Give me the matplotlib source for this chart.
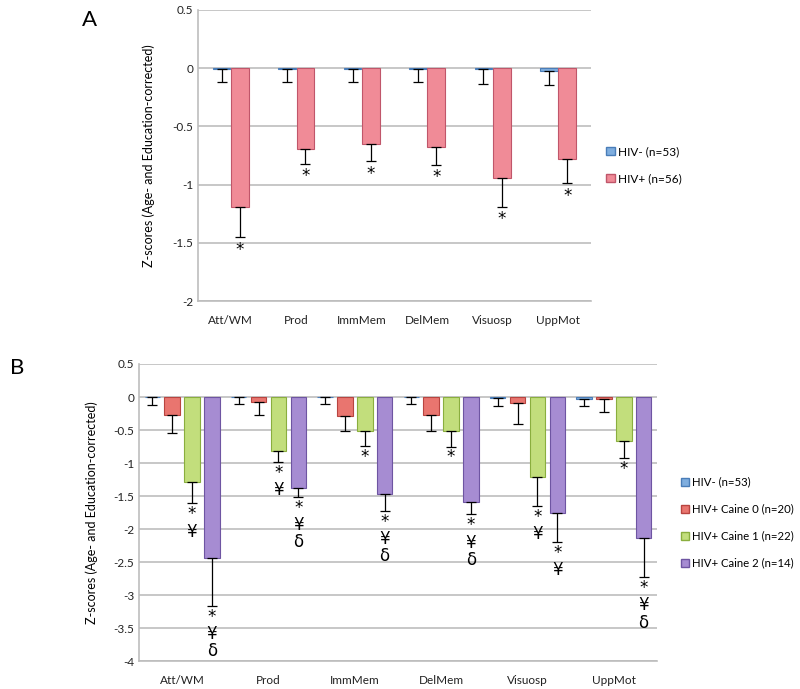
import numpy as np
import matplotlib
matplotlib.use("Agg")
import matplotlib.pyplot as plt
from matplotlib.patches import Patch

plt.rcParams['font.family'] = ['Lato', 'DejaVu Sans']

categories = ["Att/WM", "Prod", "ImmMem", "DelMem", "Visuosp", "UppMot"]

# Panel A
a_neg = [-0.005, -0.005, -0.005, -0.005, -0.005, -0.02]
a_neg_err = [0.115, 0.115, 0.115, 0.115, 0.13, 0.12]
a_pos = [-1.19, -0.69, -0.65, -0.68, -0.94, -0.78]
a_pos_err = [0.26, 0.13, 0.15, 0.15, 0.25, 0.21]
a_marks = ["*", "*", "*", "*", "*", "*"]
a_labels = ["HIV- (n=53)", "HIV+ (n=56)"]

# Panel B
b_neg = [-0.005, -0.005, -0.005, -0.005, -0.01, -0.03]
b_neg_err = [0.115, 0.105, 0.105, 0.105, 0.13, 0.11]
b_c0 = [-0.27, -0.07, -0.29, -0.28, -0.09, -0.03]
b_c0_err = [0.27, 0.21, 0.22, 0.23, 0.32, 0.20]
b_c1 = [-1.29, -0.82, -0.51, -0.52, -1.21, -0.66]
b_c1_err = [0.32, 0.16, 0.23, 0.23, 0.44, 0.26]
b_c2 = [-2.44, -1.38, -1.47, -1.59, -1.75, -2.14]
b_c2_err = [0.72, 0.13, 0.25, 0.19, 0.45, 0.59]
b_c1_marks = ["*\n¥", "*\n¥", "*", "*", "*\n¥", "*"]
b_c2_marks = ["*\n¥\nδ", "*\n¥\nδ", "*\n¥\nδ", "*\n¥\nδ", "*\n¥", "*\n¥\nδ"]
b_labels = ["HIV- (n=53)", "HIV+ Caine 0 (n=20)", "HIV+ Caine 1 (n=22)", "HIV+ Caine 2 (n=14)"]

blue = ("#7FAEDF", "#4A7DB8")
red = ("#E9756F", "#B84440")
pink = ("#F08B97", "#C0566A")
green = ("#C2DE7C", "#8AAE3E")
purple = ("#A68CD2", "#6E55A2")

grid_c = "#BDBDBD"


def style(ax, ylim, yticks):
    ax.set_ylim(*ylim)
    ax.set_yticks(yticks)
    ax.set_yticklabels([("%g" % t) for t in yticks])
    ax.set_xlim(-0.5, len(categories) - 0.5)
    ax.set_xticks(range(len(categories)))
    ax.set_xticklabels(categories)
    ax.grid(axis='y', color=grid_c, lw=1.2)
    ax.set_axisbelow(True)
    for s in ["top", "right"]:
        ax.spines[s].set_visible(False)
    for s in ["left", "bottom"]:
        ax.spines[s].set_color(grid_c)
        ax.spines[s].set_linewidth(1.2)
    ax.tick_params(length=0, labelsize=8.5, colors="#222222")
    ax.tick_params(axis='x', pad=10)
    ax.set_ylabel("Z-scores (Age- and Education-corrected)", fontsize=9)


def bars(ax, x, vals, errs, col, width):
    ax.bar(x, vals, width, color=col[0], edgecolor=col[1], linewidth=0.8, zorder=3)
    # one-sided error bars, pointing down
    ax.errorbar(x, vals, yerr=[errs, np.zeros(len(vals))], fmt="none",
                ecolor="black", elinewidth=0.9, capsize=3.5, capthick=0.9, zorder=4)


def marks(ax, x, vals, errs, texts):
    for xi, v, e, t in zip(x, vals, errs, texts):
        ax.text(xi, v - e - 0.03, t, ha="center", va="top", fontsize=12,
                linespacing=0.95, family=['DejaVu Sans'], zorder=5)


fig = plt.figure(figsize=(8, 6.89), dpi=100)

# ---- A
axA = fig.add_axes([0.2475, 0.563, 0.491, 0.4225])
x = np.arange(len(categories))
wA = 0.27
bars(axA, x - 0.14, a_neg, a_neg_err, blue, wA)
bars(axA, x + 0.14, a_pos, a_pos_err, pink, wA)
marks(axA, x + 0.14, a_pos, a_pos_err, a_marks)
style(axA, (-2, 0.5), [0.5, 0, -0.5, -1, -1.5, -2])
axA.yaxis.set_label_coords(-0.11, 0.5)
hA = [Patch(facecolor=c[0], edgecolor=c[1]) for c in (blue, pink)]
fig.legend(hA, a_labels, loc="upper left", bbox_to_anchor=(0.758, 0.788),
           frameon=False, fontsize=8.5, handlelength=0.7, handleheight=0.7,
           handletextpad=0.3, labelspacing=1.35, borderaxespad=0, borderpad=0)
fig.text(0.102, 0.985, "A", fontsize=16, va="top", ha="left")

# ---- B
axB = fig.add_axes([0.17375, 0.0406, 0.6475, 0.4311])
wB = 0.18
offs = [-0.345, -0.115, 0.115, 0.345]
series = [(b_neg, b_neg_err, blue), (b_c0, b_c0_err, red),
          (b_c1, b_c1_err, green), (b_c2, b_c2_err, purple)]
for o, (v, e, c) in zip(offs, series):
    bars(axB, x + o, v, e, c, wB)
marks(axB, x + offs[2], b_c1, b_c1_err, b_c1_marks)
marks(axB, x + offs[3], b_c2, b_c2_err, b_c2_marks)
style(axB, (-4, 0.5), [0.5, 0, -0.5, -1, -1.5, -2, -2.5, -3, -3.5, -4])
axB.yaxis.set_label_coords(-0.08, 0.5)
hB = [Patch(facecolor=c[0], edgecolor=c[1]) for c in (blue, red, green, purple)]
fig.legend(hB, b_labels, loc="upper left", bbox_to_anchor=(0.851, 0.308),
           frameon=False, fontsize=8.2, handlelength=0.7, handleheight=0.7,
           handletextpad=0.3, labelspacing=1.4, borderaxespad=0, borderpad=0)
fig.text(0.012, 0.48, "B", fontsize=16, va="top", ha="left")

fig.savefig("out.png", dpi=100)
